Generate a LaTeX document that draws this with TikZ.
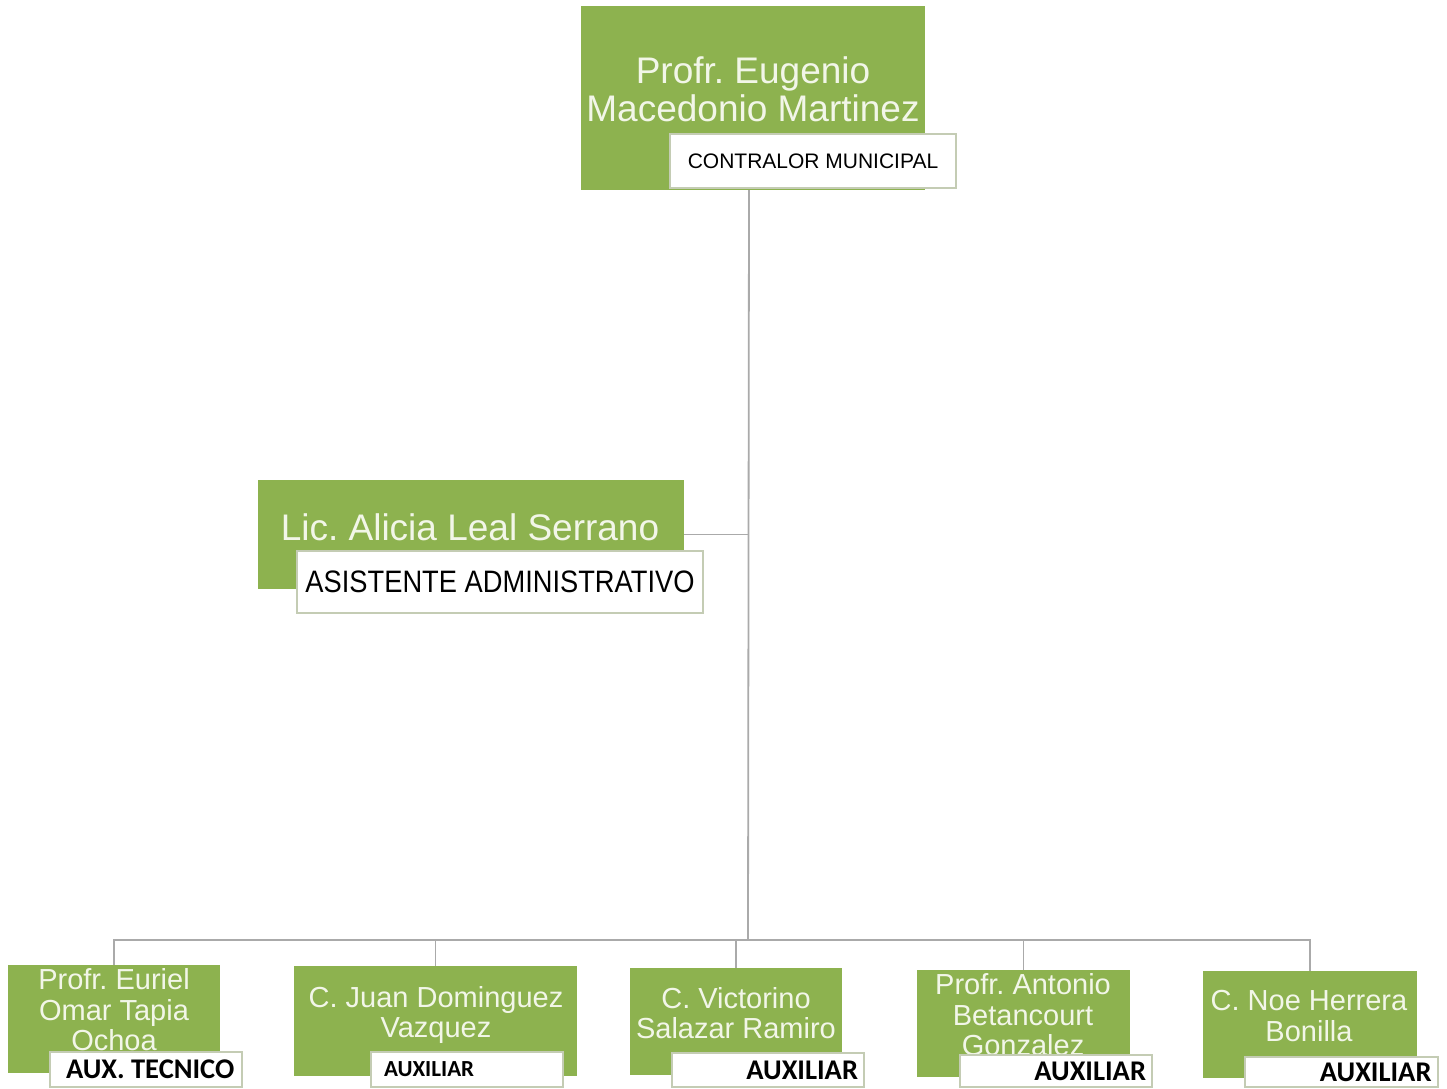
\documentclass[tikz,border=0pt]{standalone}
\usepackage{fontspec}
\setmainfont{Liberation Sans}
\newfontfamily\calibrifont{Carlito}
\newfontfamily\narrowfont[FakeStretch=0.88]{Liberation Sans}
\definecolor{orggreen}{RGB}{141,178,79}
\definecolor{namewhite}{RGB}{242,246,232}
\definecolor{rolegray}{RGB}{196,204,180}
\definecolor{linegray}{RGB}{170,170,170}
\frenchspacing

\begin{document}
\begin{tikzpicture}[x=1pt, y=-1pt, outer sep=0pt,
    gbox/.style={fill=orggreen, draw=none, inner sep=0pt, anchor=north west},
    pname/.style={text=namewhite, align=center, inner sep=0pt},
    rolebox/.style={fill=white, draw=rolegray, line width=1.2pt, inner sep=0pt, anchor=north west},
    bname/.style={pname, font=\fontsize{29}{30.5}\selectfont},
    brole/.style={rolebox, minimum width=192, font=\calibrifont\bfseries\fontsize{28.5}{30}\selectfont},
    edge/.style={draw=linegray, line width=1.8pt}]
  \useasboundingbox[fill=white] (0,0) rectangle (1447,1088);

  \node[gbox, minimum width=344, minimum height=184] (contralor) at (581,6) {};
  \node[pname, font=\fontsize{37}{38}\selectfont] (contralor-n) at (753,89) {Profr. Eugenio\\Macedonio Martinez};
  \node[rolebox, minimum width=286, minimum height=54, font=\fontsize{21}{22}\selectfont] (contralor-r) at (670,134) {CONTRALOR MUNICIPAL};

  \node[gbox, minimum width=426, minimum height=109] (asistente) at (258,480) {};
  \node[pname, font=\fontsize{37}{38}\selectfont] (asistente-n) at (470,527) {Lic. Alicia Leal Serrano};
  \node[rolebox, minimum width=406, minimum height=62, font=\narrowfont\fontsize{31}{32}\selectfont] (asistente-r) at (297,551) {ASISTENTE ADMINISTRATIVO};

  \node[gbox, minimum width=212, minimum height=108] (tecnico) at (8,965) {};
  \node[bname] (tecnico-n) at (114,1010) {Profr. Euriel\\Omar Tapia\\Ochoa};
  \node[brole, minimum height=35, text width=160, align=flush left] (tecnico-r) at (50,1052) {\mbox{AUX. TECNICO}};

  \node[gbox, minimum width=283, minimum height=110] (auxA) at (294,966) {};
  \node[bname] (auxA-n) at (436,1015) {C. Juan Dominguez\\Vazquez};
  \node[brole, minimum height=35, text width=166, align=left, font=\calibrifont\bfseries\fontsize{23}{24}\selectfont] (auxA-r) at (371,1052) {AUXILIAR};

  \node[gbox, minimum width=212, minimum height=107] (auxB) at (630,968) {};
  \node[bname] (auxB-n) at (736,1013) {C. Victorino\\Salazar Ramiro};
  \node[brole, minimum height=34, text width=180, align=right] (auxB-r) at (672,1053) {AUXILIAR};

  \node[gbox, minimum width=213, minimum height=107] (auxC) at (917,970) {};
  \node[bname] (auxC-n) at (1023,1015) {Profr. Antonio\\Betancourt\\Gonzalez};
  \node[brole, minimum height=32, text width=180, align=right] (auxC-r) at (960,1055) {AUXILIAR};

  \node[gbox, minimum width=214, minimum height=107] (auxD) at (1203,971) {};
  \node[bname] (auxD-n) at (1309,1016) {C. Noe Herrera\\Bonilla};
  \node[brole, minimum height=30, minimum width=193, text width=180, align=right] (auxD-r) at (1245,1057) {AUXILIAR};

  \coordinate (hub) at (748,940);
  \draw[edge] ([xshift=-4pt]contralor.south) -- (hub);
  \draw[edge] (asistente.east) -- (asistente.east -| hub);
  \foreach \n in {tecnico,auxA,auxB,auxC,auxD}
    \draw[edge] (hub) -| (\n.north);
\end{tikzpicture}
\end{document}
